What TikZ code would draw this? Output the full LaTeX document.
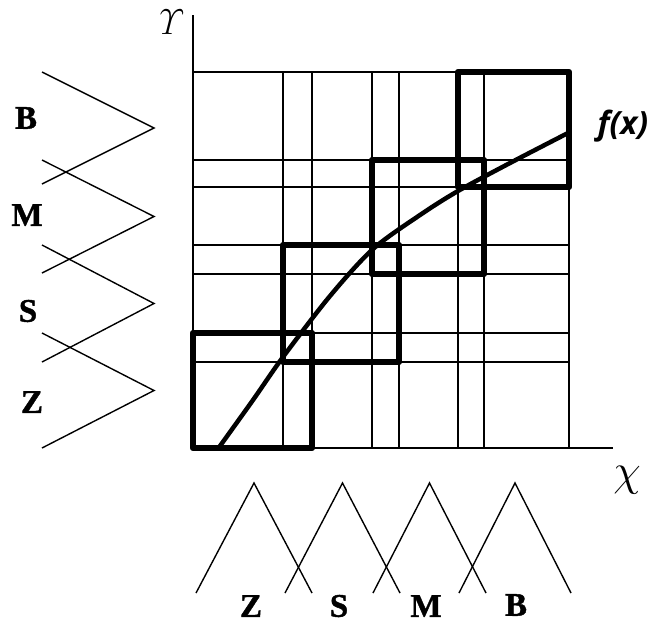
\documentclass[tikz,border=0pt]{standalone}
\usepackage{fontspec}
\setmainfont{Liberation Serif}
\newfontfamily\fxfont{Open Sans}
\newfontfamily\labfont[FakeBold=1.2]{Liberation Serif Bold}
\begin{document}
\begin{tikzpicture}[x=1pt,y=-1pt,
  gridline/.style={line width=1.6pt},
  thickbox/.style={line width=6.5pt, line join=round, line cap=round},
  mf/.style={line width=1.4pt, line join=miter},
  lab/.style={font=\labfont\bfseries\fontsize{33}{35}\selectfont, inner sep=0pt},
  fcurve/.style={line width=4.5pt, line cap=round}]
\useasboundingbox (0,0) rectangle (660,627);
% grid
\foreach \x in {283,312,372,399,458,484,569} \draw[gridline] (\x,72) -- (\x,448);
\foreach \y in {72,160,187,245,274,333,362} \draw[gridline] (193,\y) -- (569,\y);
% axes
\coordinate (O) at (193,448);
\coordinate (ytop) at (193,15);
\coordinate (xend) at (613,448);
\draw[gridline] (ytop) -- (O) -- (xend);
% thick boxes
\draw[thickbox] (193,333) rectangle (312,448);
\draw[thickbox] (283,245) rectangle (399,362);
\draw[thickbox] (372,160) rectangle (484,274);
\draw[thickbox] (458,72) rectangle (569,187);
% curve f(x)
\draw[fcurve] plot[smooth] coordinates {(220,446) (253,400) (283,357) (330,296) (373,249) (420,215) (458,191) (510,163) (568,133)};
% left membership functions
\foreach \a/\b in {72/184, 160/273, 245/362, 333/448}
  \draw[mf] (42,\a) -- (154,{(\a+\b)/2}) -- (42,\b);
% bottom membership functions
\foreach \a/\b in {196/312, 285/400, 373/486, 459/571}
  \draw[mf] (\a,593) -- ({(\a+\b)/2},483) -- (\b,593);
% labels
\node[lab] (lB) at (26,118) {B};
\node[lab] (lM) at (27,215) {M};
\node[lab] (lS) at (28,311) {S};
\node[lab] (lZ) at (32,402) {Z};
\node[lab] (bZ) at (251,606) {Z};
\node[lab] (bS) at (339,606) {S};
\node[lab] (bM) at (426,606) {M};
\node[lab] (bB) at (516,605) {B};
\node[inner sep=0pt, xslant=0.25, scale=1.45, font=\Huge] (ylab) at (170,22) {$\Upsilon$};
\node[inner sep=0pt, scale=1.8, font=\Huge] (xlab) at (627,480) {$\chi$};
\node[inner sep=0pt, font=\fxfont\itshape\bfseries\fontsize{32}{34}\selectfont] (flab) at (623,126) {f(x)};
\end{tikzpicture}
\end{document}
